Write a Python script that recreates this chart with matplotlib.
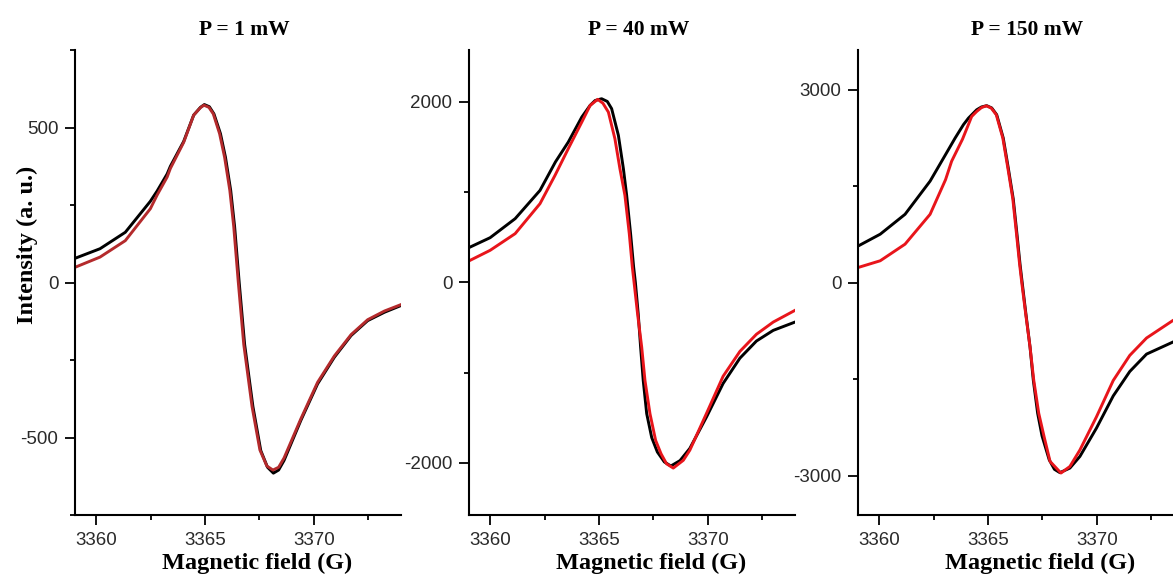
import matplotlib
matplotlib.use("Agg")
import matplotlib.pyplot as plt
from matplotlib.ticker import MultipleLocator

plt.rcParams['font.family'] = 'Liberation Sans'
plt.rcParams['axes.unicode_minus'] = False

# P = 1 mW
field_1_black = [3359.03, 3360.18, 3361.34, 3362.49, 3362.80, 3363.26, 3363.41, 3364.02, 3364.48,
                 3364.79, 3364.97, 3365.20, 3365.41, 3365.71, 3365.94, 3366.18, 3366.36, 3366.57,
                 3366.82, 3367.20, 3367.56, 3367.87, 3368.14, 3368.38, 3368.63, 3369.40, 3370.17,
                 3370.94, 3371.71, 3372.47, 3373.24, 3374.01]
int_1_black = [78, 109, 162, 262, 295, 350, 375, 455, 540,
               565, 574, 567, 544, 480, 404, 297, 180, 0,
               -200, -400, -542, -596, -615, -605, -574, -445, -327,
               -241, -171, -123, -96, -74]
field_1_red = [3359.03, 3360.18, 3361.34, 3362.49, 3362.80, 3363.26, 3363.41, 3364.02, 3364.48,
               3364.79, 3364.95, 3365.18, 3365.38, 3365.67, 3365.90, 3366.14, 3366.32, 3366.53,
               3366.78, 3367.16, 3367.52, 3367.84, 3368.12, 3368.38, 3368.63, 3369.40, 3370.17,
               3370.94, 3371.71, 3372.47, 3373.24, 3374.01]
int_1_red = [49, 82, 135, 238, 282, 340, 368, 452, 540,
             564, 572, 565, 544, 480, 404, 297, 180, 0,
             -200, -400, -540, -592, -605, -596, -566, -440, -322,
             -237, -168, -120, -92, -71]

# P = 40 mW
field_40_black = [3359.08, 3360.00, 3361.15, 3362.29, 3363.00, 3363.59, 3364.21, 3364.59, 3364.82,
                  3365.12, 3365.38, 3365.58, 3365.89, 3366.12, 3366.27, 3366.45, 3366.59, 3366.67,
                  3366.80, 3366.91, 3367.03, 3367.19, 3367.42, 3367.68, 3368.00, 3368.30, 3368.72,
                  3369.17, 3369.94, 3370.70, 3371.47, 3372.23, 3373.00, 3374.00]
int_40_black = [391, 495, 706, 1019, 1335, 1555, 1832, 1961, 2015,
                2035, 2005, 1925, 1629, 1260, 964, 540, 170, 0,
                -347, -717, -1086, -1455, -1720, -1880, -1990, -2035, -1975,
                -1840, -1490, -1120, -840, -650, -532, -440]
field_40_red = [3359.08, 3360.00, 3361.15, 3362.29, 3362.98, 3363.59, 3364.21, 3364.59, 3364.94,
                3365.18, 3365.43, 3365.73, 3365.96, 3366.19, 3366.39, 3366.53, 3366.61, 3366.77,
                3366.96, 3367.11, 3367.34, 3367.60, 3367.85, 3368.10, 3368.41, 3368.87, 3369.17,
                3369.94, 3370.70, 3371.47, 3372.23, 3373.00, 3374.00]
int_40_red = [244, 355, 540, 872, 1186, 1482, 1776, 1960, 2028,
              1985, 1887, 1592, 1260, 964, 540, 170, 0, -347,
              -717, -1086, -1455, -1751, -1900, -2010, -2058, -1972, -1860,
              -1450, -1040, -765, -575, -440, -310]

# P = 150 mW
field_150_black = [3359.05, 3360.05, 3361.19, 3362.34, 3363.05, 3363.49, 3363.87, 3364.10, 3364.48,
                   3364.70, 3364.94, 3365.17, 3365.40, 3365.70, 3365.93, 3366.16, 3366.33, 3366.47,
                   3366.57, 3366.74, 3366.93, 3367.08, 3367.28, 3367.48, 3367.81, 3368.05, 3368.30,
                   3368.76, 3369.22, 3369.98, 3370.75, 3371.51, 3372.28, 3373.49, 3373.60]
int_150_black = [572, 753, 1062, 1577, 1990, 2247, 2454, 2556, 2686,
                 2730, 2750, 2715, 2609, 2247, 1783, 1300, 753, 289,
                 0, -484, -1000, -1515, -2031, -2380, -2752, -2900, -2952,
                 -2881, -2700, -2260, -1760, -1380, -1110, -923, -905]
field_150_red = [3359.05, 3360.05, 3361.19, 3362.34, 3363.05, 3363.33, 3363.83, 3364.25, 3364.48,
                 3364.70, 3364.92, 3365.15, 3365.38, 3365.68, 3365.91, 3366.14, 3366.31, 3366.45,
                 3366.55, 3366.73, 3366.93, 3367.10, 3367.33, 3367.58, 3367.85, 3368.35, 3368.76,
                 3369.22, 3369.98, 3370.75, 3371.51, 3372.28, 3373.49, 3373.60]
int_150_red = [237, 340, 598, 1062, 1600, 1887, 2230, 2582, 2660,
               2720, 2748, 2712, 2609, 2247, 1783, 1300, 753, 289,
               0, -484, -1000, -1515, -2031, -2400, -2778, -2958, -2856,
               -2600, -2085, -1520, -1130, -860, -588, -570]

titles = ['P = 1 mW', 'P = 40 mW', 'P = 150 mW']
ylims = [(-750, 750), (-2578, 2575), (-3610, 3615)]
ymajor = [500, 2000, 3000]
red_colors = ['#b42a2c', '#e8151b', '#e8151b']
panels = [
    (field_1_black, int_1_black, field_1_red, int_1_red),
    (field_40_black, int_40_black, field_40_red, int_40_red),
    (field_150_black, int_150_black, field_150_red, int_150_red),
]
lefts = [75, 469, 858]

W, H = 1173, 577
fig = plt.figure(figsize=(W / 100, H / 100), dpi=100)

serif_bold = dict(family='Liberation Serif', weight='bold')

for i, (fb, ib, fr, ir) in enumerate(panels):
    ax = fig.add_axes([lefts[i] / W, (H - 515) / H, 326 / W, 465 / H])
    ax.plot(fb, ib, color='black', lw=2.1, solid_joinstyle='round')
    ax.plot(fr, ir, color=red_colors[i], lw=2.1, solid_joinstyle='round')
    ax.set_xlim(3359.03, 3374.0)
    ax.set_ylim(*ylims[i])
    ax.xaxis.set_major_locator(MultipleLocator(5))
    ax.xaxis.set_minor_locator(MultipleLocator(2.5))
    ax.yaxis.set_major_locator(MultipleLocator(ymajor[i]))
    ax.yaxis.set_minor_locator(MultipleLocator(ymajor[i] / 2))
    for s in ['top', 'right']:
        ax.spines[s].set_visible(False)
    for s in ['left', 'bottom']:
        ax.spines[s].set_linewidth(1.5)
    ax.tick_params(which='major', length=7, width=1.3, pad=5, labelsize=13.5,
                   labelcolor='#2a2a2a', direction='out')
    ax.tick_params(which='minor', length=3.6, width=1.3, direction='out')
    ax.set_title(titles[i], fontsize=15.5, pad=11, x=0.52, **serif_bold)
    ax.set_xlabel('Magnetic field (G)', fontsize=17.5, **serif_bold)
    ax.xaxis.set_label_coords(0.56, -0.082)
    if i == 0:
        ax.set_ylabel('Intensity (a. u.)', fontsize=17.5, **serif_bold)
        ax.yaxis.set_label_coords(-0.115, 0.58)

fig.savefig('out.png', dpi=100)
